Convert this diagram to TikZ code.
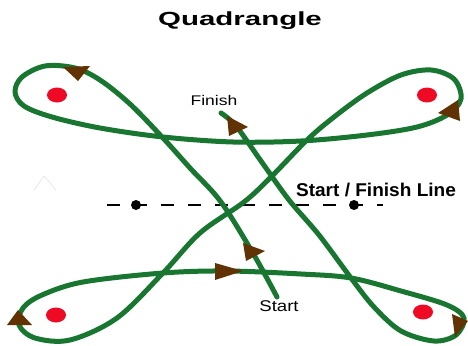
\documentclass[tikz,border=0pt]{standalone}
\usepackage{fontspec}
\setmainfont{Liberation Sans}
\definecolor{trackgreen}{RGB}{24,118,48}
\definecolor{arrowbrown}{RGB}{96,50,4}
\definecolor{dotred}{RGB}{238,10,36}
\begin{document}
\begin{tikzpicture}[x=1pt,y=-1pt,
  track/.style={draw=trackgreen,line width=5pt,line cap=round,line join=round},
  tip/.style={fill=arrowbrown},
  pylon/.style={fill=dotred},
  lbl/.style={inner sep=0pt,text=black}]
\useasboundingbox (0,0) rectangle (468,345);
\fill[white] (0,0) rectangle (468,345);
% faint caret
\draw[black!10,line width=0.6pt] (34,190) -- (44,176) -- (56,190);
% start/finish line
\draw[black,line width=1.3pt,dash pattern=on 13pt off 14pt] (107,205) -- (383,205);
\fill[black] (136,205) circle (5);
\fill[black] (354,205) circle (5);
% red pylons
\fill[pylon] (57,95) ellipse (10 and 7.5);
\fill[pylon] (427,95) ellipse (10 and 7.5);
\fill[pylon] (56,315) ellipse (10 and 7.5);
\fill[pylon] (423,312) ellipse (10 and 7.5);
% the track
\draw[track] plot[smooth,tension=0.55] coordinates {
 (277,297) (254,255) (221,202) (190,168) (163,138) (130,104) (100,80) (75,68)
 (45,66) (22,77) (15,92) (24,106) (52,117) (100,128) (163,137) (233,142)
 (301,141) (367,135) (417,127) (447,115) (461,99) (454,79) (431,70)
 (401,75) (367,93) (334,117) (307,140) (271,177) (244,202) (200,233)
 (163,273) (117,318) (70,340) (35,338) (19,325) (23,308) (42,295)
 (83,282) (163,273) (227,271) (301,274) (351,278) (401,291) (447,305)
 (464,318) (456,335) (434,341) (401,331) (374,307) (351,278) (319,235)
 (289,200) (261,161) (236,126) (221,113)};
% arrow heads
\fill[tip] (63,67) -- (90,66) -- (78,81) -- cycle;
\fill[tip] (227,116) -- (248,127) -- (229,136) -- cycle;
\fill[tip] (438,113) -- (458,100) -- (460,121) -- cycle;
\fill[tip] (243,243) -- (265,251) -- (246,261) -- cycle;
\fill[tip] (215,263) -- (243,271) -- (215,280) -- cycle;
\fill[tip] (7,325) -- (18,310) -- (32,325) -- cycle;
\fill[tip] (452,314) -- (468,321) -- (455,337) -- cycle;
% labels
\node[lbl] (title) at (240,21) {\scalebox{1.55}[1]{\fontsize{19}{19}\selectfont\bfseries Quadrangle}};
\node[lbl] (finish) at (214,100) {\scalebox{1.25}[1]{\fontsize{14}{14}\selectfont Finish}};
\node[lbl] (sfline) at (376,190) {\scalebox{1.03}[1]{\fontsize{18.5}{18.5}\selectfont\bfseries Start / Finish Line}};
\node[lbl] (start) at (279,306) {\scalebox{1.2}[1]{\fontsize{15.5}{15.5}\selectfont Start}};
\end{tikzpicture}
\end{document}
